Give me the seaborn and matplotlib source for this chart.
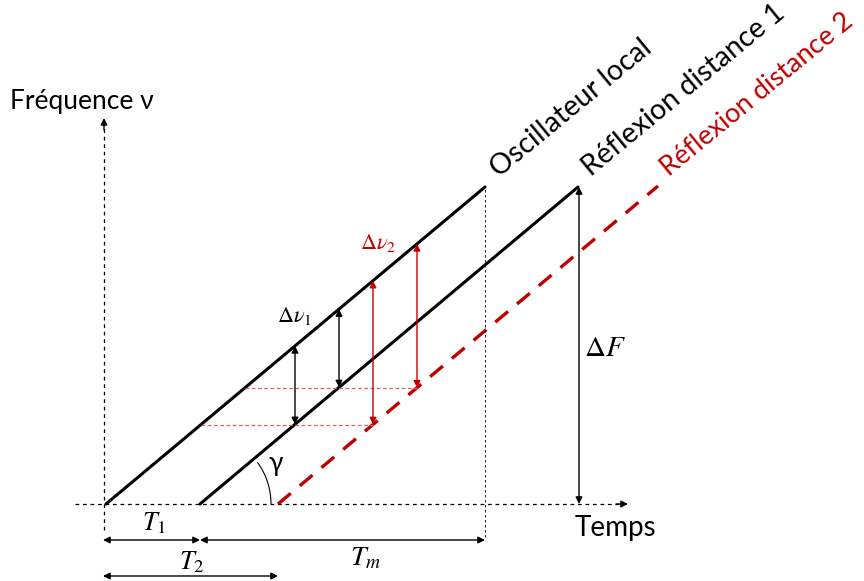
import numpy as np
import pandas as pd
import seaborn as sns
import matplotlib.pyplot as plt
from matplotlib.patches import Arc

# ramps (time, frequency), origin at the axes crossing
ramp_names = ["Oscillateur local", "Réflexion distance 1", "Réflexion distance 2"]
ramp_t = [[2, 381], [96, 474], [174, 554]]
ramp_f = [[0, 317], [0, 317], [0, 318]]
ramp_colors = ["black", "black", "#c00000"]

T_m_end = 381
dF_t = 475
dnu1_t = [191, 235]
dnu2_t = [269, 313]

sns.set_theme(style="white")
plt.rcParams["font.family"] = ["Lato", "DejaVu Sans"]
plt.rcParams["mathtext.fontset"] = "stix"
plt.rcParams["text.color"] = "black"

rows = []
for name, ts, fs in zip(ramp_names, ramp_t, ramp_f):
    for t, f in zip(ts, fs):
        rows.append({"t": t, "f": f, "signal": name})
ramps = pd.DataFrame(rows)

fig = plt.figure(figsize=(8.64, 5.81), dpi=100)
ax = fig.add_axes([0, 0, 1, 1])
ax.set_xlim(-104, 760)
ax.set_ylim(-77, 504)
ax.axis("off")

sns.lineplot(data=ramps, x="t", y="f", hue="signal", style="signal",
             palette=dict(zip(ramp_names, ramp_colors)),
             dashes={ramp_names[0]: "", ramp_names[1]: "", ramp_names[2]: (5, 3.5)},
             legend=False, ax=ax, lw=2.2)
ax.lines[-1].set_linewidth(2.4)


def on_ramp(i, t):
    return np.interp(t, ramp_t[i], ramp_f[i], left=0)


def arrow(x0, y0, x1, y1, color="black", style="<|-|>", lw=1.0):
    ax.annotate("", xy=(x1, y1), xytext=(x0, y0),
                arrowprops=dict(arrowstyle=style, color=color, lw=lw,
                                shrinkA=0, shrinkB=0, mutation_scale=10))


# axes
ax.plot([-29, 516], [0, 0], ls=(0, (3, 3)), color="black", lw=0.9)
arrow(512, 0, 524, 0, style="-|>")
ax.plot([0, 0], [-26, 378], ls=(0, (3, 3)), color="black", lw=0.9)
arrow(0, 374, 0, 386, style="-|>")
ax.plot([T_m_end, T_m_end], [-33, 317], ls=(0, (3, 3)), color="black", lw=0.6)

# time spans
arrow(-1, -36, ramp_t[1][0], -36)
arrow(ramp_t[1][0], -36, T_m_end, -36)
arrow(-1, -72, ramp_t[2][0], -72)
arrow(dF_t, 0, dF_t, ramp_f[1][1])

# beat frequencies
for t in dnu1_t:
    arrow(t, on_ramp(1, t), t, on_ramp(0, t))
for t in dnu2_t:
    lvl = on_ramp(2, t)
    arrow(t, lvl, t, on_ramp(0, t), color="#c00000")
    t_left = np.interp(lvl, ramp_f[0], ramp_t[0])
    ax.plot([t_left, t], [lvl, lvl], ls=(0, (3, 2)), color="#e06060", lw=0.9)

ax.add_patch(Arc((ramp_t[1][0], 0), 142, 142, theta1=0, theta2=36, color="black", lw=0.8))

# labels
ax.text(-94, 402, "Fréquence ν", fontsize=19, va="center", ha="left")
ax.text(471, -24, "Temps", fontsize=20, va="center", ha="left")
ax.text(395, 326, "Oscillateur local", fontsize=20.5, rotation=39.5,
        rotation_mode="anchor", ha="left", va="baseline")
ax.text(487, 327, "Réflexion distance 1", fontsize=20.5, rotation=39.5,
        rotation_mode="anchor", ha="left", va="baseline")
ax.text(565, 327, "Réflexion distance 2", fontsize=19.5, rotation=39.5,
        rotation_mode="anchor", ha="left", va="baseline", color="#c00000")
ax.text(190, 188, r"$\Delta\nu_1$", fontsize=16, ha="center", va="center")
ax.text(274, 261, r"$\Delta\nu_2$", fontsize=16, ha="center", va="center", color="#c00000")
ax.text(501, 156, r"$\Delta F$", fontsize=21, ha="center", va="center")
ax.text(172, 40, "γ", fontsize=19, ha="center", va="center")
ax.text(50, -19, r"$T_1$", fontsize=19, ha="center", va="center")
ax.text(88, -58, r"$T_2$", fontsize=19, ha="center", va="center")
ax.text(262, -54, r"$T_m$", fontsize=20, ha="center", va="center")

fig.savefig("out.png", dpi=100)
